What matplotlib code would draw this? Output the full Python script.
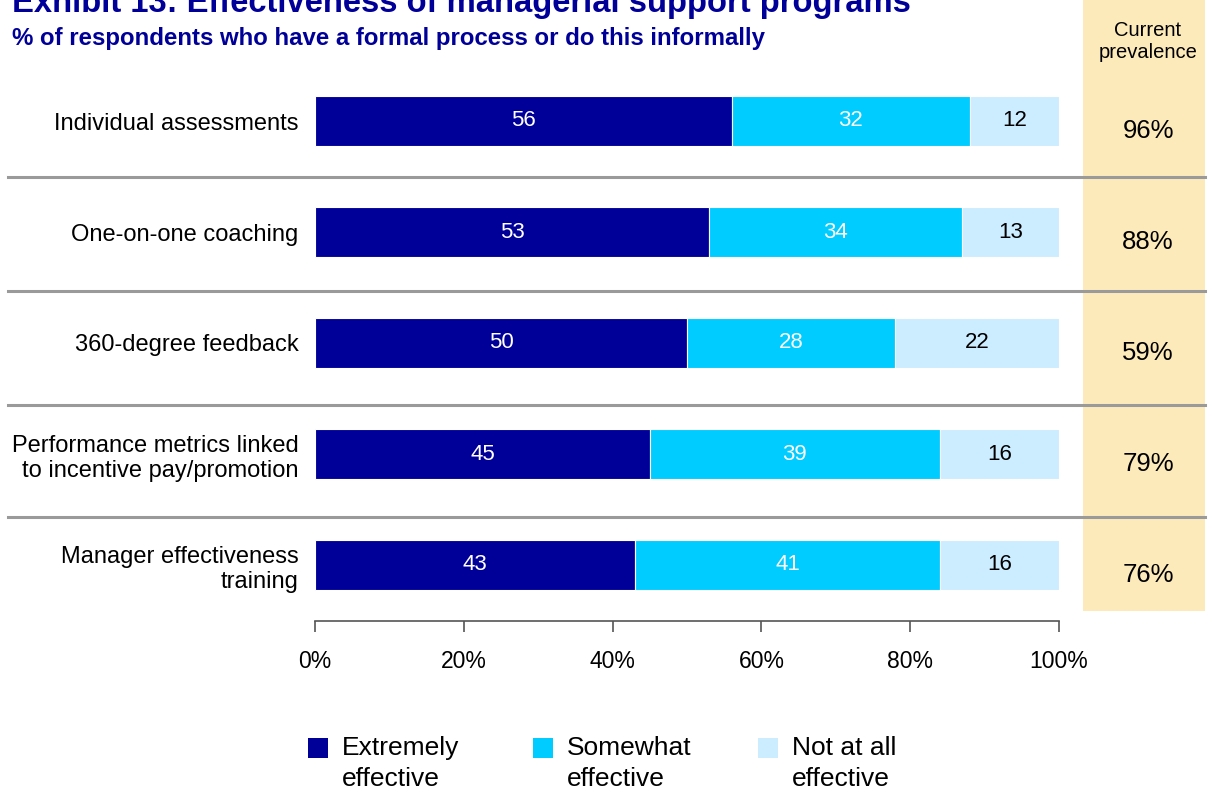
import matplotlib
matplotlib.use("Agg")
import matplotlib.pyplot as plt
from matplotlib.patches import Rectangle
from matplotlib.lines import Line2D
from matplotlib.ticker import FuncFormatter
from matplotlib import font_manager

# ---- data ----
categories = [
    "Individual assessments",
    "One-on-one coaching",
    "360-degree feedback",
    "Performance metrics linked\nto incentive pay/promotion",
    "Manager effectiveness\ntraining",
]
extremely = [56, 53, 50, 45, 43]
somewhat = [32, 34, 28, 39, 41]
not_at_all = [12, 13, 22, 16, 16]
prevalence = [96, 88, 59, 79, 76]
series_names = ["Extremely\neffective", "Somewhat\neffective", "Not at all\neffective"]
x_ticks = [0, 20, 40, 60, 80, 100]

title = "Exhibit 13: Effectiveness of managerial support programs"
subtitle = "% of respondents who have a formal process or do this informally"
side_header = "Current\nprevalence"

# ---- style ----
NAVY = "#000099"
CYAN = "#00CCFF"
PALE = "#CCECFF"
TAN = "#FDEABB"
GRID = "#9A9A9A"

available = {f.name for f in font_manager.fontManager.ttflist}
BASE = "Liberation Sans" if "Liberation Sans" in available else "DejaVu Sans"
plt.rcParams["font.family"] = [BASE, "DejaVu Sans"]

W, H = 1212, 794
fig = plt.figure(figsize=(W / 100, H / 100), dpi=100)
fig.patch.set_facecolor("white")


def fx(px):
    return px / W


def fy(py):
    return 1 - py / H


# Tan column behind the prevalence figures
fig.patches.append(Rectangle((fx(1083), fy(611)), fx(1205) - fx(1083), fy(0) - fy(611),
                             transform=fig.transFigure, facecolor=TAN, edgecolor="none",
                             zorder=0))

# Row separators
for py in [177, 291, 405, 517]:
    fig.add_artist(Line2D([fx(8), fx(1205)], [fy(py), fy(py)], transform=fig.transFigure,
                          color=GRID, lw=2.2, zorder=1))

# Main bar axes
ax = fig.add_axes([fx(315), fy(620.5), fx(1059) - fx(315), (620.5 - 65.5) / H])
ax.set_facecolor("none")
ax.set_zorder(2)
n = len(categories)
ypos = list(range(n))
bar_h = 0.45

segments = [
    (extremely, NAVY, "white"),
    (somewhat, CYAN, "white"),
    (not_at_all, PALE, "black"),
]
left = [0] * n
for values, color, tcolor in segments:
    bars = ax.barh(ypos, values, left=left, height=bar_h, color=color,
                   edgecolor="white", linewidth=0.8, zorder=2)
    for b, v in zip(bars, values):
        ax.text(b.get_x() + b.get_width() / 2, b.get_y() + b.get_height() / 2, f"{v}",
                ha="center", va="center", color=tcolor, fontsize=16, zorder=3)
    left = [l + v for l, v in zip(left, values)]

ax.set_xlim(0, 100)
ax.set_ylim(n - 0.5, -0.5)
ax.set_xticks(x_ticks)
ax.xaxis.set_major_formatter(FuncFormatter(lambda v, _: f"{v:.0f}%"))
ax.set_yticks(ypos)
ax.set_yticklabels(categories, fontsize=17, ha="right", linespacing=1.2)
ax.tick_params(axis="y", length=0, pad=12)
ax.tick_params(axis="x", direction="out", length=8, width=1.2, color="#555555",
               labelsize=16.5, pad=13)
for side in ["top", "right", "left"]:
    ax.spines[side].set_visible(False)
ax.spines["bottom"].set_color("#555555")
ax.spines["bottom"].set_linewidth(1.2)

# Prevalence column
for y, p in zip(ypos, prevalence):
    ax.annotate(f"{p}%", xy=(fx(1148), y), xycoords=("figure fraction", "data"),
                xytext=(0, -7), textcoords="offset points",
                ha="center", va="center", fontsize=18.5, color="black",
                annotation_clip=False)
fig.text(fx(1148), fy(42), side_header, ha="center", va="center", fontsize=14.5,
         linespacing=1.2)

# Titles
fig.text(fx(12), fy(12), title, ha="left", va="baseline", fontsize=23.6,
         fontweight="bold", color=NAVY)
fig.text(fx(12), fy(38), subtitle, ha="left", va="center", fontsize=17.3,
         fontweight="bold", color=NAVY)

# Legend
for i, (name, (_, color, _)) in enumerate(zip(series_names, segments)):
    x0 = 308 + i * 225
    fig.patches.append(Rectangle((fx(x0), fy(758)), fx(20), 20 / H,
                                 transform=fig.transFigure, facecolor=color,
                                 edgecolor="none"))
    fig.text(fx(x0 + 34), fy(736), name, ha="left", va="top", fontsize=19,
             linespacing=1.35)

fig.savefig("out.png", dpi=100)
